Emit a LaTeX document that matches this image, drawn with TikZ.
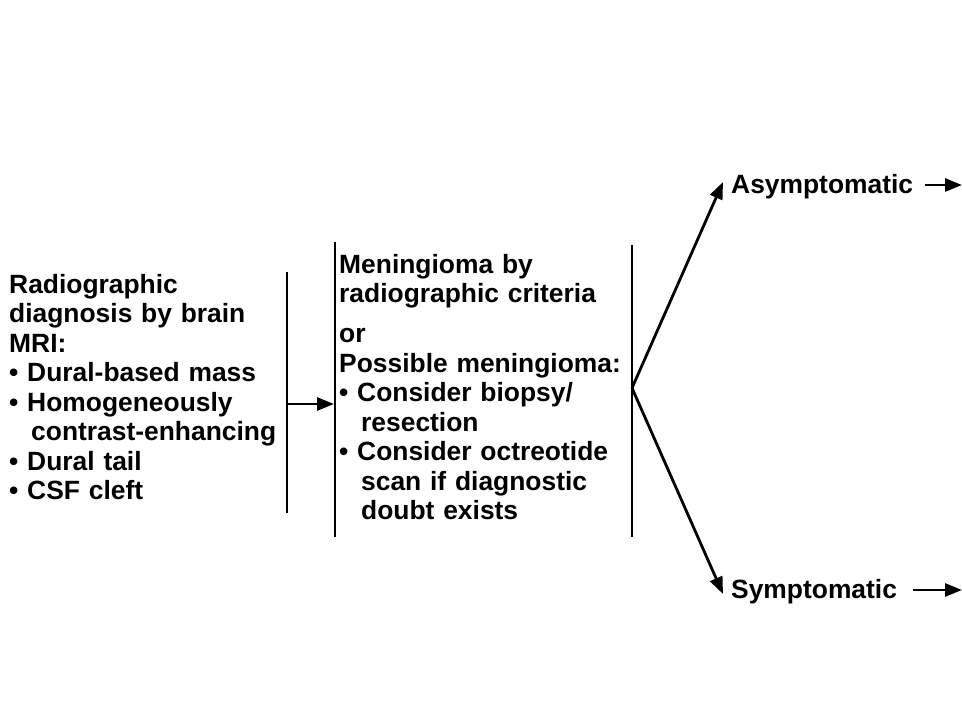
\documentclass[tikz,border=0pt]{standalone}
\usepackage{fontspec}
\setmainfont{Liberation Sans}
\usetikzlibrary{arrows.meta}
\begin{document}
\begin{tikzpicture}[x=1pt,y=-1pt,
  blocktext/.style={inner sep=0pt, anchor=base west, text width=#1, align=left,
    font=\bfseries\fontsize{26.4}{29.5}\selectfont},
  label/.style={inner sep=0pt, anchor=base west,
    font=\bfseries\fontsize{26.4}{29.5}\selectfont},
  bar/.style={line width=2.8pt},
  conn/.style={line width=2.8pt, -{Triangle[length=17pt,width=13pt]}}]
\useasboundingbox (0,0) rectangle (962,726);

% text blocks
\node[blocktext=290pt] (mri) at (9,293) {Radiographic\\
diagnosis by brain\\
MRI:\\
\textbullet\ Dural-based mass\\
\textbullet\ Homogeneously\\
\hspace*{22pt}contrast-enhancing\\
\textbullet\ Dural tail\\
\textbullet\ CSF cleft};

\node[blocktext=300pt] (mgm) at (339,273) {Meningioma by\\
radiographic criteria\\[10.5pt]
or\\
Possible meningioma:\\
\textbullet\ Consider biopsy/\\
\hspace*{22pt}resection\\
\textbullet\ Consider octreotide\\
\hspace*{22pt}scan if diagnostic\\
\hspace*{22pt}doubt exists};

\node[label] (asy) at (731,193) {Asymptomatic};
\node[label] (sym) at (731,598) {Symptomatic};

% bracket bars
\coordinate (b1t) at (287,272);
\coordinate (b1b) at (287,513);
\coordinate (b2t) at (335,242);
\coordinate (b2b) at (335,537);
\coordinate (b3t) at (632,245);
\coordinate (b3b) at (632,537);
\draw[bar] (b1t) -- (b1b);
\draw[bar] (b2t) -- (b2b);
\draw[bar] (b3t) -- (b3b);

% connectors
\coordinate (a1) at (287,404);
\coordinate (a2) at (334,404);
\draw[conn] (a1) -- (a2);

\coordinate (fork) at (632,388);
\coordinate (asytip) at (723,182);
\coordinate (symtip) at (723,594);
\draw[conn] (fork) -- (asytip);
\draw[conn] (fork) -- (symtip);

\coordinate (asyend) at (962,185);
\coordinate (symend) at (962,590);
\draw[conn] ([xshift=12pt]asy.east |- asyend) -- (asyend);
\draw[conn] ([xshift=16pt]sym.east |- symend) -- (symend);
\end{tikzpicture}
\end{document}
